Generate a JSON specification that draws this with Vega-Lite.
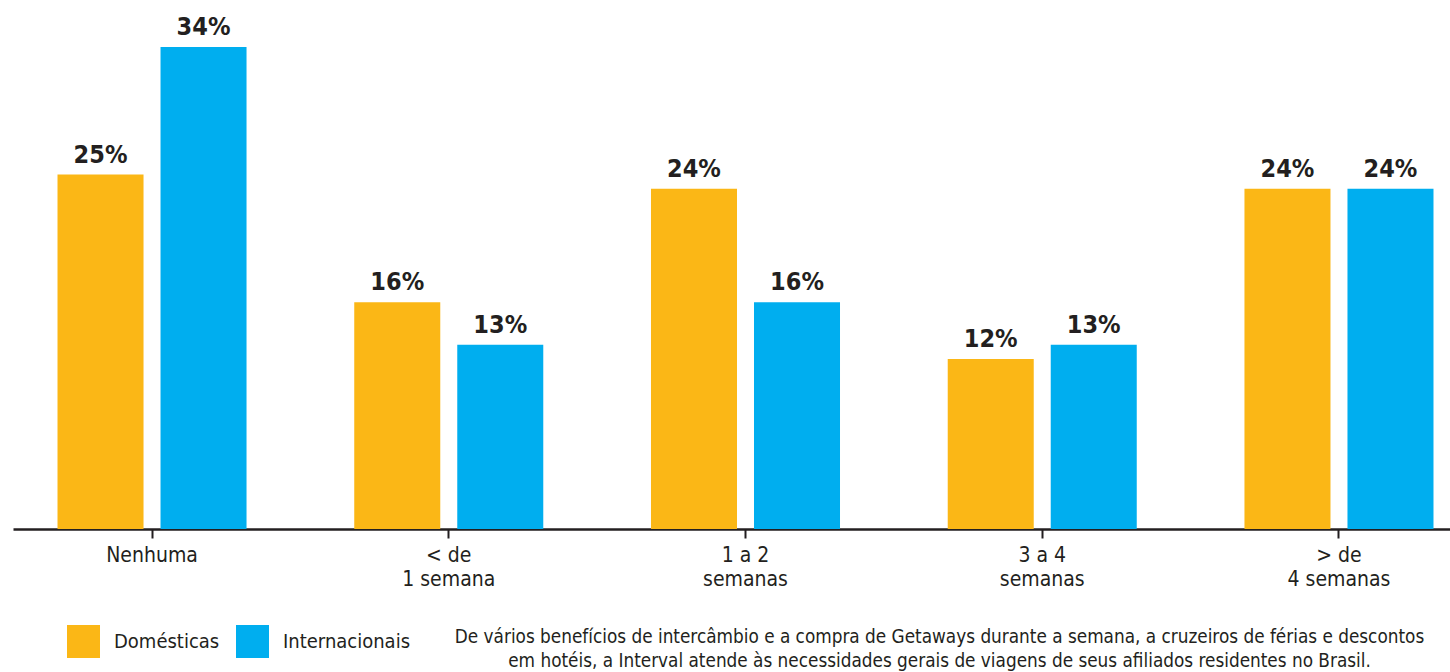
{
  "$schema": "https://vega.github.io/schema/vega-lite/v6.json",
  "width": 1465,
  "height": 482,
  "autosize": {"type": "none"},
  "padding": {"left": 13, "top": 47, "right": 0, "bottom": 143},
  "background": "#ffffff",
  "title": {
    "text": ["De vários benefícios de intercâmbio e a compra de Getaways durante a semana, a cruzeiros de férias e descontos", "em hotéis, a Interval atende às necessidades gerais de viagens de seus afiliados residentes no Brasil."],
    "orient": "bottom",
    "anchor": "middle",
    "frame": "group",
    "dx": 194,
    "offset": -30,
    "font": "'DejaVu Sans Condensed', sans-serif",
    "fontSize": 18.8,
    "fontWeight": "normal",
    "lineHeight": 24,
    "color": "#231f20"
  },
  "data": {
    "values": [
      {"cat": "Nenhuma", "serie": "Domésticas", "value": 0.25},
      {"cat": "Nenhuma", "serie": "Internacionais", "value": 0.34},
      {"cat": "< de|1 semana", "serie": "Domésticas", "value": 0.16},
      {"cat": "< de|1 semana", "serie": "Internacionais", "value": 0.13},
      {"cat": "1 a 2|semanas", "serie": "Domésticas", "value": 0.24},
      {"cat": "1 a 2|semanas", "serie": "Internacionais", "value": 0.16},
      {"cat": "3 a 4|semanas", "serie": "Domésticas", "value": 0.12},
      {"cat": "3 a 4|semanas", "serie": "Internacionais", "value": 0.13},
      {"cat": "> de|4 semanas", "serie": "Domésticas", "value": 0.24},
      {"cat": "> de|4 semanas", "serie": "Internacionais", "value": 0.24}
    ]
  },
  "encoding": {
    "x": {
      "field": "cat",
      "type": "nominal",
      "sort": null,
      "title": null,
      "scale": {"paddingInner": 0.363, "paddingOuter": 0.15},
      "axis": {
        "labelAngle": 0,
        "labelExpr": "split(datum.label, '|')",
        "labelFont": "'DejaVu Sans Condensed', sans-serif",
        "labelFontSize": 21,
        "labelColor": "#231f20",
        "labelLineHeight": 24,
        "labelPadding": 6,
        "domainColor": "#231f20",
        "domainWidth": 2.5,
        "tickColor": "#231f20",
        "tickWidth": 2,
        "tickSize": 9,
        "grid": false
      }
    },
    "xOffset": {
      "field": "serie",
      "type": "nominal",
      "sort": ["Domésticas", "Internacionais"],
      "scale": {"paddingInner": 0.165, "paddingOuter": 0}
    },
    "y": {
      "field": "value",
      "type": "quantitative",
      "scale": {"domain": [0, 0.34], "nice": false},
      "axis": null
    }
  },
  "layer": [
    {
      "mark": {"type": "bar"},
      "encoding": {
        "color": {
          "field": "serie",
          "type": "nominal",
          "sort": ["Domésticas", "Internacionais"],
          "scale": {"domain": ["Domésticas", "Internacionais"], "range": ["#fbb716", "#00aeef"]},
          "legend": {
            "title": null,
            "orient": "none",
            "legendX": 54,
            "legendY": 578,
            "direction": "horizontal",
            "symbolType": "square",
            "symbolSize": 1089,
            "symbolStrokeWidth": 0,
            "symbolOpacity": 1,
            "labelFont": "'DejaVu Sans Condensed', sans-serif",
            "labelFontSize": 20,
            "labelColor": "#231f20",
            "labelOffset": 14,
            "columnPadding": 16,
            "padding": 0
          }
        }
      }
    },
    {
      "mark": {
        "type": "text",
        "dy": -12,
        "baseline": "alphabetic",
        "font": "'DejaVu Sans Condensed', sans-serif",
        "fontSize": 25,
        "fontWeight": "bold",
        "color": "#231f20"
      },
      "encoding": {
        "text": {"field": "value", "type": "quantitative", "format": ".0%"}
      }
    }
  ],
  "config": {
    "view": {"stroke": null}
  }
}
